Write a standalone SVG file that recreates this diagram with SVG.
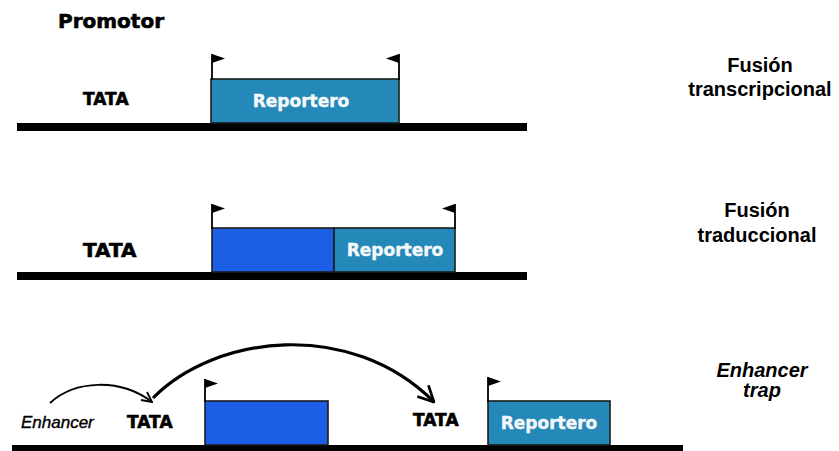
<svg xmlns="http://www.w3.org/2000/svg" width="839" height="451" viewBox="0 0 839 451">
  <style>
    .bar { fill: #000; }
    .rep { fill: #2488b8; stroke: #1b1b1b; stroke-width: 1.6; }
    .cds { fill: #1d5ee6; stroke: #1b1b1b; stroke-width: 1.6; }
    .pole { stroke: #000; stroke-width: 1.8; fill: none; }
    .flag { fill: #000; }
    .lbl { font-family: "DejaVu Sans", Verdana, sans-serif; font-weight: bold; fill: #000; stroke: #000; stroke-width: 0.6; }
    .inbox { font-family: "DejaVu Sans", Verdana, sans-serif; font-weight: bold; fill: #f4f8fb; stroke: #f4f8fb; stroke-width: 0.4; font-size: 17px; text-anchor: middle; }
    .side { font-family: "Liberation Sans", Arial, sans-serif; font-weight: bold; font-size: 20px; text-anchor: middle; fill: #000; }
    .arc { fill: none; stroke: #000; }
  </style>
  <defs>
    <marker id="head" viewBox="0 0 12 12" refX="11" refY="6" markerWidth="12" markerHeight="12" markerUnits="userSpaceOnUse" orient="auto">
      <path d="M1,1 L11,6 L1,11" fill="none" stroke="#000" stroke-width="1.8"/>
    </marker>
    <marker id="headBig" viewBox="0 0 16 16" refX="15" refY="8" markerWidth="18" markerHeight="18" markerUnits="userSpaceOnUse" orient="auto">
      <path d="M1,1 L15,8 L1,15" fill="none" stroke="#000" stroke-width="2.4"/>
    </marker>
  </defs>

  <text class="lbl" x="58" y="28" font-size="20">Promotor</text>

  <!-- Transcriptional fusion -->
  <g id="fusion-transcripcional">
    <rect class="bar" x="17" y="123" width="510" height="8"/>
    <rect class="rep" x="211" y="79" width="188" height="44"/>
    <path class="pole" d="M212,54 V80 M399,54 V80"/>
    <path class="flag" d="M212,54 L225,58.5 L212,63 Z"/>
    <path class="flag" d="M399,54 L386,58.5 L399,63 Z"/>
    <text class="inbox" x="301" y="107">Reportero</text>
    <text class="lbl" x="83" y="105" font-size="17">TATA</text>
    <text class="side" x="760" y="72">Fusión</text>
    <text class="side" x="760" y="96">transcripcional</text>
  </g>

  <!-- Translational fusion -->
  <g id="fusion-traduccional">
    <rect class="bar" x="17" y="272" width="510" height="8"/>
    <rect class="cds" x="212" y="228" width="122" height="44"/>
    <rect class="rep" x="334" y="228" width="121" height="44"/>
    <path class="pole" d="M212,204 V229 M455,204 V229"/>
    <path class="flag" d="M212,204 L225,208.5 L212,213 Z"/>
    <path class="flag" d="M455,204 L442,208.5 L455,213 Z"/>
    <text class="inbox" x="395" y="256">Reportero</text>
    <text class="lbl" x="83" y="257" font-size="20">TATA</text>
    <text class="side" x="757" y="217">Fusión</text>
    <text class="side" x="757" y="242">traduccional</text>
  </g>

  <!-- Enhancer trap -->
  <g id="enhancer-trap">
    <rect class="bar" x="12" y="445" width="671" height="6"/>
    <rect class="cds" x="205" y="401" width="123" height="44"/>
    <rect class="rep" x="488" y="401" width="122" height="44"/>
    <path class="pole" d="M205,379 V402 M488,377 V402"/>
    <path class="flag" d="M205,379 L218,383.5 L205,388 Z"/>
    <path class="flag" d="M488,377 L501,381.5 L488,386 Z"/>
    <text class="inbox" x="549" y="429">Reportero</text>
    <text x="21" y="428" font-family="Liberation Sans, Arial, sans-serif" font-style="italic" font-size="17" fill="#000" stroke="#000" stroke-width="0.4">Enhancer</text>
    <text class="lbl" x="127" y="428" font-size="17">TATA</text>
    <text class="lbl" x="413" y="426" font-size="17">TATA</text>
    <text class="side" x="762" y="377" font-style="italic">Enhancer</text>
    <text class="side" x="762" y="397" font-style="italic">trap</text>
  </g>

  <g id="connectors">
    <path class="arc" stroke-width="2" d="M50,403 C75,380 120,378 152,402" marker-end="url(#head)"/>
    <path class="arc" stroke-width="3.2" d="M153,398 C215,335 350,318 434,402" marker-end="url(#headBig)"/>
  </g>
</svg>
